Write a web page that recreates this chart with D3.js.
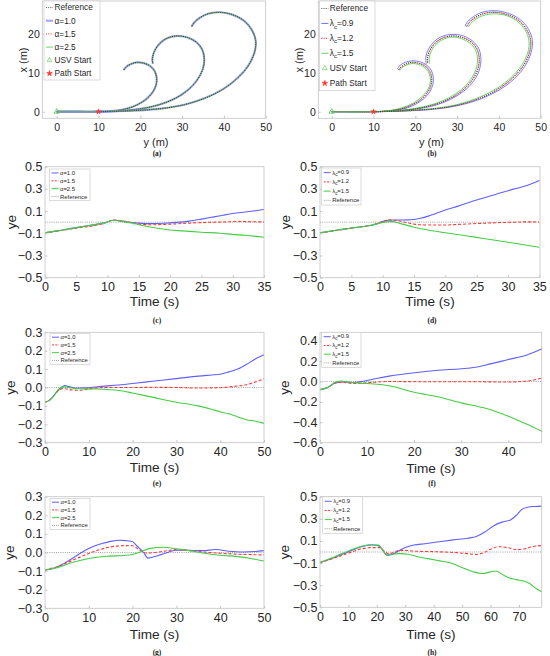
<!DOCTYPE html>
<html>
<head>
<meta charset="utf-8">
<script src="https://cdn.jsdelivr.net/npm/d3@7"></script>
<style>
body{margin:0;background:#fff}
svg{display:block;font-family:"Liberation Sans",Arial,sans-serif}
</style>
</head>
<body>
<svg id="fig" width="550" height="656"></svg>
<script>
// ---- trajectories, points are [y (m), x (m)] ----
var refSmall=[[10,0],[13,0.15],[15.5,0.5],[18,1.2],[20,2.2],[21.7,3.5],[23,5.1],[23.8,7],[23.9,8.8],[23.4,10.5],[22.3,11.8],[20.8,12.5],[19.2,12.7],[17.8,12.3],[16.7,11.6],[16,10.7]];
var refMid=[[10,0],[15,0.2],[20,0.75],[24.5,1.8],[28.3,3.4],[31.3,5.5],[33.5,8],[34.9,10.8],[35.3,13.5],[34.8,16],[33.4,17.9],[31.3,19.1],[28.8,19.5],[26.4,18.9],[24.6,17.5],[23.4,15.6],[22.9,13.8],[23,12.3]];
var refBig=[[10,0],[18,0.25],[25,0.8],[30.5,1.8],[35.5,3.5],[39.8,5.8],[43.2,8.6],[45.8,11.8],[47.3,15.2],[47.6,18.3],[46.6,21.2],[44.7,23.5],[42,25],[39,25.6],[36.2,25.2],[34,24],[32.7,22.7],[32.3,21.9]];
var usvLeadIn=[[0,0],[5,0]];

// (b) lambda_c tracks
var l09Small=[[0,0],[10,0],[13,0.1],[15.5,0.4],[18.1,1.0],[20.2,2.0],[22.0,3.3],[23.4,5.0],[24.2,7],[24.3,8.9],[23.8,10.7],[22.6,12.1],[21,12.9],[19.2,13.1],[17.6,12.7],[16.4,12],[15.7,11]];
var l15Small=[[0,0],[10,0],[13,0.2],[15.4,0.6],[17.9,1.4],[19.8,2.4],[21.4,3.7],[22.7,5.2],[23.5,7],[23.6,8.7],[23.1,10.3],[22.1,11.5],[20.7,12.2],[19.2,12.4],[17.9,12.0],[16.9,11.4],[16.3,10.6]];
var l09Mid=[[0,0],[10,0],[15,0.15],[20,0.65],[24.6,1.6],[28.5,3.2],[31.6,5.3],[33.9,7.8],[35.3,10.7],[35.7,13.5],[35.2,16.2],[33.7,18.2],[31.5,19.5],[28.8,19.9],[26.2,19.3],[24.3,17.8],[23,15.8],[22.5,13.9],[22.6,12.3]];
var l15Mid=[[0,0],[10,0],[15,0.25],[20,0.85],[24.4,1.95],[28.1,3.6],[31,5.7],[33.2,8.2],[34.5,10.9],[34.9,13.5],[34.4,15.9],[33.1,17.6],[31.1,18.8],[28.8,19.2],[26.6,18.6],[24.9,17.3],[23.8,15.5],[23.3,13.8],[23.4,12.4]];
var l09Big=[[0,0],[10,0],[18,0.2],[25,0.7],[30.6,1.65],[35.7,3.3],[40.1,5.6],[43.6,8.4],[46.2,11.7],[47.7,15.2],[48,18.4],[47,21.4],[45,23.8],[42.1,25.4],[39,26],[36,25.6],[33.7,24.3],[32.3,22.9],[31.9,22]];
var l15Big=[[0,0],[10,0],[18,0.3],[25,0.9],[30.4,1.95],[35.3,3.7],[39.5,6],[42.9,8.8],[45.4,11.9],[46.9,15.2],[47.2,18.2],[46.3,21],[44.5,23.2],[41.9,24.7],[39,25.2],[36.4,24.8],[34.3,23.7],[33.1,22.5],[32.7,21.8]];
var usvStart=[0,0];
var pathStart=[10,0];

// ---- cross-track error ye, points are [t (s), ye] ----
var c_a10=[[0,-0.095],[2,-0.078],[4,-0.058],[6,-0.04],[8,-0.022],[9.5,-0.005],[11,0.017],[12,0.012],[13.5,0.0],[15,-0.008],[17,-0.013],[19,-0.01],[21,-0.002],[23,0.01],[25,0.028],[27,0.048],[29,0.068],[30,0.078],[32,0.092],[34,0.106],[35,0.115]];
var c_a15=[[0,-0.095],[2,-0.08],[4,-0.062],[6,-0.045],[8,-0.03],[9.5,-0.01],[11,0.02],[12,0.015],[13.5,0.0],[15,-0.015],[17,-0.023],[19,-0.02],[21,-0.015],[23,-0.008],[25,-0.004],[27,0.0],[29,0.003],[31,0.007],[33,0.004],[35,0.003]];
var c_a25=[[0,-0.095],[2,-0.078],[4,-0.058],[6,-0.04],[8,-0.022],[9.5,-0.005],[11,0.017],[12,0.01],[14,-0.01],[16,-0.035],[18,-0.055],[20,-0.07],[22,-0.078],[25,-0.09],[28,-0.1],[30,-0.11],[32,-0.118],[35,-0.135]];

var d_l09=[[0,-0.095],[2,-0.078],[4,-0.06],[6,-0.045],[8,-0.03],[8.8,-0.02],[10,0.005],[11,0.018],[12.5,0.02],[14,0.021],[15,0.025],[16,0.035],[17,0.05],[18,0.07],[20,0.11],[22,0.145],[25,0.2],[28,0.25],[31,0.3],[33,0.33],[35,0.375]];
var d_l12=[[0,-0.095],[2,-0.08],[4,-0.062],[6,-0.046],[8,-0.03],[9.5,-0.005],[11,0.022],[12,0.018],[13.5,0.0],[15,-0.017],[17,-0.025],[20,-0.025],[22,-0.02],[25,-0.012],[28,-0.005],[31,0.0],[33,0.003],[35,0.002]];
var d_l15=[[0,-0.095],[2,-0.078],[4,-0.06],[6,-0.045],[8,-0.03],[9.5,-0.01],[10.5,0.003],[11.5,0.005],[13,-0.015],[15,-0.045],[17,-0.068],[20,-0.095],[25,-0.137],[30,-0.18],[35,-0.225]];

var e_a10=[[0,-0.08],[1,-0.07],[2,-0.045],[3,-0.015],[4,0.005],[4.5,0.01],[5.5,0.005],[7,-0.003],[9,-0.002],[12,0.004],[15,0.01],[20,0.022],[25,0.035],[30,0.048],[35,0.062],[38,0.068],[40,0.072],[42,0.085],[44,0.1],[46,0.125],[48,0.155],[50,0.178]];
var e_a15=[[0,-0.08],[1,-0.07],[2,-0.045],[3,-0.018],[4,-0.006],[5,-0.008],[6,-0.013],[8,-0.015],[10,-0.008],[12,-0.002],[15,0.0],[20,0.0],[25,0.001],[30,0.0],[35,-0.003],[40,-0.001],[42,0.003],[44,0.008],[46,0.015],[48,0.03],[50,0.048]];
var e_a25=[[0,-0.08],[1,-0.07],[2,-0.045],[3,-0.012],[4,0.002],[4.5,0.004],[6,-0.003],[8,-0.007],[12,-0.008],[15,-0.012],[18,-0.02],[20,-0.03],[25,-0.055],[30,-0.08],[35,-0.1],[38,-0.118],[40,-0.132],[42,-0.143],[44,-0.16],[46,-0.175],[48,-0.183],[50,-0.195]];

var f_l09=[[0,-0.08],[1,-0.07],[2,-0.05],[3,-0.02],[4,-0.006],[5,-0.005],[7,-0.01],[9,0.0],[12,0.03],[15,0.055],[20,0.085],[25,0.11],[30,0.125],[33,0.14],[36,0.17],[40,0.215],[44,0.26],[47.2,0.32]];
var f_l12=[[0,-0.08],[1,-0.07],[2,-0.05],[3,-0.018],[4,-0.01],[5,-0.01],[7,-0.02],[10,-0.012],[15,0.0],[20,-0.002],[30,-0.002],[40,-0.005],[43,0.0],[45,0.01],[47.2,0.035]];
var f_l15=[[0,-0.08],[1,-0.07],[2,-0.05],[3,-0.012],[4,0.002],[4.5,0.005],[6,-0.005],[8,-0.015],[10,-0.02],[13,-0.03],[15,-0.045],[20,-0.105],[25,-0.15],[30,-0.21],[35,-0.26],[40,-0.34],[44,-0.42],[47.2,-0.49]];

var g_a10=[[0,-0.094],[2,-0.085],[5,-0.05],[8,-0.005],[10,0.022],[13,0.048],[15,0.06],[17,0.066],[18.5,0.064],[20,0.058],[21,0.035],[22.5,0.0],[23.5,-0.03],[26,-0.015],[28,0.0],[30,0.013],[33,0.012],[36,0.01],[39,0.016],[42,0.007],[45,0.003],[48,0.005],[50,0.01]];
var g_a15=[[0,-0.094],[3,-0.075],[6,-0.045],[9,-0.015],[12,0.012],[15,0.03],[18,0.037],[20,0.036],[21.5,0.015],[23,-0.003],[25,0.0],[28,0.01],[30,0.015],[33,0.01],[36,0.003],[40,-0.004],[45,-0.01],[50,-0.013]];
var g_a25=[[0,-0.094],[3,-0.08],[6,-0.055],[10,-0.032],[14,-0.02],[18,-0.016],[20,-0.011],[22,0.005],[24,0.022],[27,0.028],[30,0.02],[33,0.01],[36,-0.003],[40,-0.015],[44,-0.022],[47,-0.032],[50,-0.046]];

var h_l09=[[0,-0.096],[5,-0.05],[10,0.003],[15,0.05],[18,0.063],[20.5,0.058],[22,0.02],[23.5,-0.03],[25,-0.025],[27,0.0],[30,0.04],[33,0.063],[37,0.075],[42,0.093],[47,0.11],[52,0.125],[55,0.14],[58,0.18],[61,0.235],[64,0.27],[67,0.29],[69,0.33],[71,0.385],[73,0.405],[76,0.412],[78,0.415]];
var h_l12=[[0,-0.096],[5,-0.055],[10,-0.01],[15,0.03],[18,0.04],[21,0.04],[22.5,0.01],[24,-0.015],[26,-0.005],[28,0.015],[30,0.015],[33,0.008],[40,0.003],[48,-0.006],[52,-0.015],[55,-0.022],[57,-0.012],[60,0.025],[63,0.048],[66,0.04],[69,0.022],[72,0.03],[75,0.05],[78,0.058]];
var h_l15=[[0,-0.096],[5,-0.045],[10,0.01],[15,0.055],[18,0.066],[20.5,0.062],[22,0.02],[23.5,-0.025],[25,-0.02],[28,-0.015],[31,-0.02],[34,-0.04],[38,-0.06],[42,-0.08],[46,-0.1],[50,-0.14],[54,-0.18],[57,-0.195],[60,-0.18],[62,-0.172],[64,-0.2],[66,-0.228],[69,-0.25],[72,-0.265],[74,-0.29],[76,-0.33],[78,-0.36]];

// ---- ticks ----
var trajTicksH=[0,10,20,30,40,50];
var trajTicksV=[0,10,20];
var ticksT35=[0,5,10,15,20,25,30,35];
var ticksT50=[0,10,20,30,40,50];
var ticksT40=[0,10,20,30,40];
var ticksT70=[0,10,20,30,40,50,60,70];
var ticksYe5=[-0.5,-0.3,-0.1,0.1,0.3,0.5];
var ticksYe3=[-0.3,-0.2,-0.1,0,0.1,0.2,0.3];
var ticksYe6=[-0.6,-0.4,-0.2,0,0.2,0.4];

var alphaNames=['α=1.0','α=1.5','α=2.5'];
var lambdaNames=['0.9','1.2','1.5'];

var BLUE='#5f5fff', RED='#ff3535', GREEN='#45cc45', FRAME='#c4c4c4', TXT='#262626';

var svg=d3.select('#fig');

function frame(g,x,y,tv,fs,pad){
  var r=x.range(), s=y.range();
  g.append('rect').attr('x',r[0]).attr('y',s[1]).attr('width',r[1]-r[0]).attr('height',s[0]-s[1])
    .attr('fill','none').attr('stroke',FRAME).attr('stroke-width',0.8);
  var ax=g.append('g').attr('transform','translate(0,'+s[0]+')')
    .call(d3.axisBottom(x).tickValues(tv.x).tickFormat(tv.xf||d3.format('d')).tickSizeInner(-2.5).tickSizeOuter(0).tickPadding(pad.x));
  var ay=g.append('g').attr('transform','translate('+r[0]+',0)')
    .call(d3.axisLeft(y).tickValues(tv.y).tickFormat(tv.yf||d3.format('d')).tickSizeInner(-2.5).tickSizeOuter(0).tickPadding(pad.y));
  [ax,ay].forEach(function(a){
    a.select('.domain').remove();
    a.selectAll('line').attr('stroke',FRAME);
    a.selectAll('text').attr('fill',TXT).style('font-size',fs+'px').style('font-family','"Liberation Sans",Arial,sans-serif');
  });
}

function legendBox(g,x0,y0,w,h,items,fs,len){
  g.append('rect').attr('x',x0).attr('y',y0).attr('width',w).attr('height',h)
    .attr('fill','#fff').attr('stroke',FRAME).attr('stroke-width',0.6);
  var step=h/items.length;
  items.forEach(function(it,i){
    var cy=y0+step*(i+0.5);
    if(it.marker){
      g.append('path').attr('d',d3.symbol().type(it.marker).size(it.msize||10)())
        .attr('transform','translate('+(x0+2+len/2)+','+cy+')')
        .attr('fill',it.fill||'none').attr('stroke',it.color).attr('stroke-width',0.6);
    }else{
      g.append('line').attr('x1',x0+2).attr('x2',x0+2+len).attr('y1',cy).attr('y2',cy)
        .attr('stroke',it.color).attr('stroke-width',it.w||1).attr('stroke-dasharray',it.dash||null).attr('opacity',it.op||1);
    }
    var t=g.append('text').attr('x',x0+len+3.5).attr('y',cy).attr('dy','0.35em')
      .style('font-size',fs+'px').attr('fill',TXT);
    if(it.lam){
      t.append('tspan').text('λ');
      t.append('tspan').attr('dy','0.35em').style('font-size',(fs*0.75)+'px').text('c');
      t.append('tspan').attr('dy','-0.35em').text('='+it.lam);
    }else t.text(it.label);
  });
}

function axisLabels(g,xl,xy,yl,yx,yy,fs){
  g.append('text').attr('x',xl[0]).attr('y',xy).attr('text-anchor','middle').attr('dy','0.35em')
    .style('font-size',fs+'px').attr('fill',TXT).text(xl[1]);
  g.append('text').attr('transform','translate('+yx+','+yy+') rotate(-90)').attr('text-anchor','middle').attr('dy','0.35em')
    .style('font-size',fs+'px').attr('fill',TXT).text(yl);
}

function caption(txt,x,y){
  svg.append('text').attr('x',x).attr('y',y).attr('text-anchor','middle').attr('dy','0.35em')
    .style('font-family','"Liberation Serif","Times New Roman",serif').style('font-weight','bold')
    .style('font-size','7.5px').attr('fill','#222').text(txt);
}

// ---------- trajectory panels (a) (b) ----------
function trajPanel(left,zero,right,tracks,isLambda){
  var x=d3.scaleLinear().domain([(left-zero)/4.18,50]).range([left,right]);
  var y=d3.scaleLinear().domain([-1.7,28.5]).range([118.3,1]);
  var g=svg.append('g');
  var line=d3.line().x(function(d){return x(d[0]);}).y(function(d){return y(d[1]);}).curve(d3.curveCatmullRom.alpha(0.5));
  tracks.forEach(function(tr){
    g.append('path').attr('d',line(tr.blue)).attr('fill','none').attr('stroke',isLambda?BLUE:'#8a8aff')
      .attr('stroke-width',isLambda?0.9:2.2).attr('opacity',isLambda?0.9:0.75);
    g.append('path').attr('d',line(tr.red)).attr('fill','none').attr('stroke',RED)
      .attr('stroke-width',isLambda?1.3:1).attr('stroke-dasharray','1,1.3').attr('opacity',0.8);
    g.append('path').attr('d',line(tr.green)).attr('fill','none').attr('stroke',GREEN).attr('stroke-width',0.8);
    g.append('path').attr('d',line(tr.ref)).attr('fill','none').attr('stroke','#222')
      .attr('stroke-width',0.8).attr('stroke-dasharray','1,1.2');
  });
  g.append('path').attr('d',d3.symbol().type(d3.symbolTriangle).size(12)())
    .attr('transform','translate('+x(usvStart[0])+','+y(usvStart[1])+')')
    .attr('fill','none').attr('stroke',GREEN).attr('stroke-width',0.8);
  g.append('path').attr('d',d3.symbol().type(d3.symbolStar).size(10)())
    .attr('transform','translate('+x(pathStart[0])+','+y(pathStart[1])+')')
    .attr('fill',RED).attr('stroke',RED).attr('stroke-width',0.4);
  frame(g,x,y,{x:trajTicksH,y:trajTicksV},10.5,{x:5.5,y:2.5});
  axisLabels(g,[(left+right)/2+2,'y (m)'],142,'x (m)',left-19.5,60,11);
  return g;
}

var ga=trajPanel(42.3,56.7,265.7,[
  {ref:refSmall,blue:usvLeadIn.concat(refSmall),red:usvLeadIn.concat(refSmall),green:usvLeadIn.concat(refSmall)},
  {ref:refMid,blue:usvLeadIn.concat(refMid),red:usvLeadIn.concat(refMid),green:usvLeadIn.concat(refMid)},
  {ref:refBig,blue:usvLeadIn.concat(refBig),red:usvLeadIn.concat(refBig),green:usvLeadIn.concat(refBig)}
],false);
legendBox(ga,44,1,56,79,[
  {label:'Reference',color:'#222',dash:'1,1.2',w:0.8},
  {label:alphaNames[0],color:'#8a8aff',w:2.2,op:0.75},
  {label:alphaNames[1],color:RED,dash:'1,1.3',w:1},
  {label:alphaNames[2],color:GREEN,w:0.8},
  {label:'USV Start',color:GREEN,marker:d3.symbolTriangle},
  {label:'Path Start',color:RED,fill:RED,marker:d3.symbolStar}
],8.3,7);

var gb=trajPanel(318.3,331.7,540.7,[
  {ref:refSmall,blue:l09Small,red:usvLeadIn.concat(refSmall),green:l15Small},
  {ref:refMid,blue:l09Mid,red:usvLeadIn.concat(refMid),green:l15Mid},
  {ref:refBig,blue:l09Big,red:usvLeadIn.concat(refBig),green:l15Big}
],true);
legendBox(gb,319.3,1,55.7,89.7,[
  {label:'Reference',color:'#222',dash:'1,1.2',w:0.8},
  {lam:lambdaNames[0],color:BLUE,w:0.9},
  {lam:lambdaNames[1],color:RED,dash:'1,1.3',w:1.3},
  {lam:lambdaNames[2],color:GREEN,w:0.8},
  {label:'USV Start',color:GREEN,marker:d3.symbolTriangle},
  {label:'Path Start',color:RED,fill:RED,marker:d3.symbolStar}
],8.3,7);

caption('(a)',157,153.5);
caption('(b)',432,153.5);

// ---------- ye panels ----------
var yePanels=[
  {box:[45,166.7,264,277.7],xd:[0,35],yd:[-0.5,0.5],xt:ticksT35,yt:ticksYe5,s:[c_a10,c_a15,c_a25],lam:false,leg:[49.5,169,40.5,31.5],timeY:301.5,yeX:11.5,cap:['(c)',157,320]},
  {box:[320,166.7,540,277.7],xd:[0,35.1],yd:[-0.5,0.5],xt:ticksT35,yt:ticksYe5,s:[d_l09,d_l12,d_l15],lam:true,leg:[321.7,168,39.3,37],timeY:301.5,yeX:285,cap:['(d)',432,320]},
  {box:[45,332.3,264,442.7],xd:[0,50],yd:[-0.3,0.3],xt:ticksT50,yt:ticksYe3,s:[e_a10,e_a15,e_a25],lam:false,leg:[50,333.3,40,31],timeY:467.7,yeX:10,cap:['(e)',157,483.5]},
  {box:[320,332.3,541.7,442.7],xd:[0,47.1],yd:[-0.6,0.482],xt:ticksT40,yt:ticksYe6,s:[f_l09,f_l12,f_l15],lam:true,leg:[321.7,332.3,39.3,35],timeY:468.3,yeX:284.3,cap:['(f)',432,483.5]},
  {box:[45,496.7,264,608.3],xd:[0,50],yd:[-0.3,0.3],xt:ticksT50,yt:ticksYe3,s:[g_a10,g_a15,g_a25],lam:false,leg:[50,498.3,40,31],timeY:634.3,yeX:9.5,cap:['(g)',157,652.5]},
  {box:[320,496.7,541.7,607.3],xd:[0,78],yd:[-0.5,0.5],xt:ticksT70,yt:ticksYe5,s:[h_l09,h_l12,h_l15],lam:true,leg:[322.7,496.7,39.6,36.6],timeY:634,yeX:284.3,cap:['(h)',432,652]}
];

var styles=[{c:BLUE,w:1.1,dash:null},{c:RED,w:1.1,dash:'3,2'},{c:GREEN,w:1.1,dash:null}];

yePanels.forEach(function(p){
  var x=d3.scaleLinear().domain(p.xd).range([p.box[0],p.box[2]]);
  var y=d3.scaleLinear().domain(p.yd).range([p.box[3],p.box[1]]);
  var g=svg.append('g');
  var line=d3.line().x(function(d){return x(d[0]);}).y(function(d){return y(d[1]);}).curve(d3.curveMonotoneX);
  g.append('line').attr('x1',x(p.xd[0])).attr('x2',x(p.xd[1])).attr('y1',y(0)).attr('y2',y(0))
    .attr('stroke','#9a9a9a').attr('stroke-width',0.9).attr('stroke-dasharray','1,1.2');
  p.s.forEach(function(ser,i){
    g.append('path').attr('d',line(ser)).attr('fill','none').attr('stroke',styles[i].c)
      .attr('stroke-width',styles[i].w).attr('stroke-dasharray',styles[i].dash);
  });
  frame(g,x,y,{x:p.xt,y:p.yt,yf:d3.format('.1f')},12.5,{x:4.5,y:2.5});
  axisLabels(g,[(p.box[0]+p.box[2])/2,'Time (s)'],p.timeY,'ye',p.yeX,(p.box[1]+p.box[3])/2,13.6);
  var items=p.s.map(function(ser,i){
    var it={color:styles[i].c,dash:styles[i].dash?'2,1.3':null,w:1};
    if(p.lam) it.lam=lambdaNames[i]; else it.label=alphaNames[i];
    return it;
  });
  items.push({label:'Reference',color:'#9a9a9a',dash:'1,1',w:0.9});
  legendBox(g,p.leg[0],p.leg[1],p.leg[2],p.leg[3],items,5.9,7);
  caption(p.cap[0],p.cap[1],p.cap[2]);
});
</script>
</body>
</html>
